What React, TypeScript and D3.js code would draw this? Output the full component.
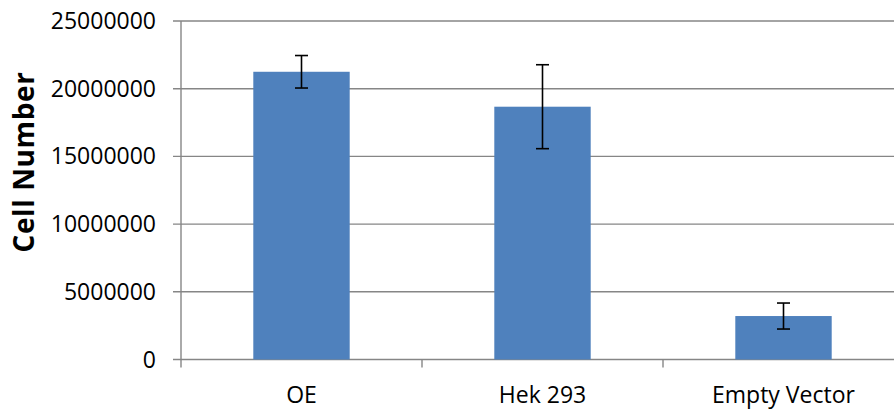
import React from "react";
import * as d3 from "d3";

const categories = ["OE", "Hek 293", "Empty Vector"];
const values = [21250000, 18670000, 3210000];
const errors = [1200000, 3100000, 960000];
const yTicks = [0, 5000000, 10000000, 15000000, 20000000, 25000000];
const yLabel = "Cell Number";

const W = 894;
const H = 411;
const left = 181;
const right = 904;
const top = 21;
const bottom = 359.5;
const FONT = "'Open Sans', sans-serif";

export default function App() {
  const x = d3.scaleBand<string>().domain(categories).range([left, right]).paddingInner(0).paddingOuter(0);
  const y = d3.scaleLinear().domain([0, 25000000]).range([bottom, top]);
  const barW = x.bandwidth() * 0.4;
  const capW = 13;
  const grid = "#868686";
  const boundaries = d3.range(categories.length + 1).map((i) => left + i * x.bandwidth());

  return (
    <svg width={W} height={H} style={{ position: "absolute", left: 0, top: 0, display: "block" }}>
      <rect width={W} height={H} fill="#fff" />
      {yTicks.map((t) => (
        <g key={t}>
          <line x1={left - 8} x2={W} y1={y(t)} y2={y(t)} stroke={grid} strokeWidth={1.4} />
          <text x={156} y={y(t)} dy="0.35em" textAnchor="end" fontFamily={FONT} fontSize={23} fill="#000">
            {t}
          </text>
        </g>
      ))}
      <line x1={left} x2={left} y1={top} y2={bottom + 8} stroke={grid} strokeWidth={1.4} />
      {boundaries.slice(1).map((b, i) => (
        <line key={i} x1={b} x2={b} y1={bottom} y2={bottom + 8} stroke={grid} strokeWidth={1.4} />
      ))}
      {categories.map((c, i) => {
        const cx = (x(c) as number) + x.bandwidth() / 2;
        return (
          <g key={c}>
            <rect x={cx - barW / 2} y={y(values[i])} width={barW} height={bottom - y(values[i])} fill="#4F81BD" />
            <line x1={cx} x2={cx} y1={y(values[i] + errors[i])} y2={y(values[i] - errors[i])} stroke="#000" strokeWidth={1.6} />
            <line x1={cx - capW / 2} x2={cx + capW / 2} y1={y(values[i] + errors[i])} y2={y(values[i] + errors[i])} stroke="#000" strokeWidth={1.6} />
            <line x1={cx - capW / 2} x2={cx + capW / 2} y1={y(values[i] - errors[i])} y2={y(values[i] - errors[i])} stroke="#000" strokeWidth={1.6} />
            <text x={cx} y={402.5} textAnchor="middle" fontFamily={FONT} fontSize={23} fill="#000">
              {c}
            </text>
          </g>
        );
      })}
      <text
        transform={`translate(34,162) rotate(-90)`}
        textAnchor="middle"
        fontFamily={FONT}
        fontWeight="bold"
        fontSize={28}
        letterSpacing={0.6}
        fill="#000"
      >
        {yLabel}
      </text>
    </svg>
  );
}
